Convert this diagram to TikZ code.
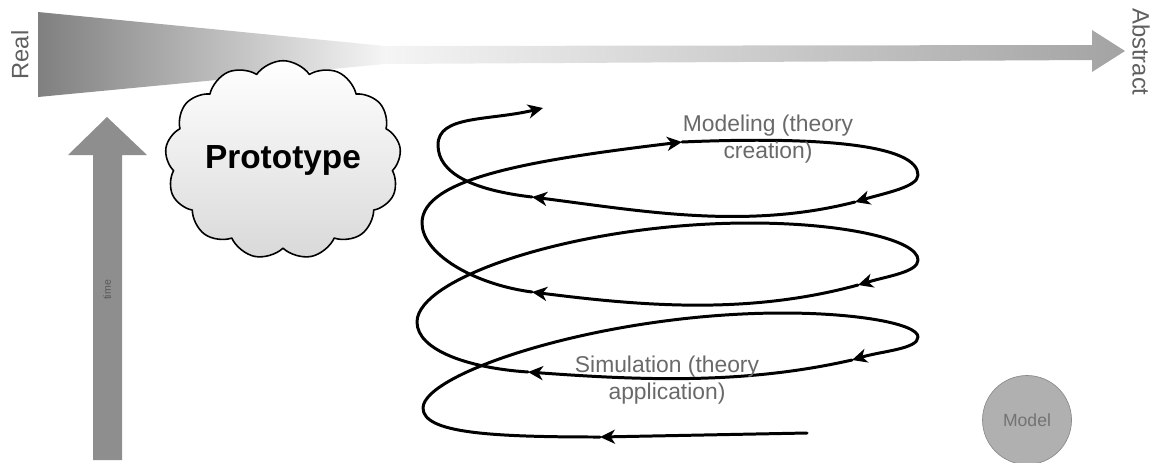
\documentclass[tikz,border=0pt]{standalone}
\usepackage{fontspec}
\setmainfont{Liberation Sans}
\usetikzlibrary{arrows.meta, shapes.symbols}
\definecolor{textc}{RGB}{95,95,95}
\definecolor{labelc}{RGB}{105,105,105}
\definecolor{timec}{RGB}{142,142,142}
\definecolor{modelc}{RGB}{176,176,176}

\begin{document}
\begin{tikzpicture}[x=0.2mm, y=-0.2mm, line join=round,
  coil/.style={line width=1.7pt, line cap=round, -{Stealth[length=8.5pt, width=8pt, inset=2.5pt]}},
  side/.style={font=\fontsize{13.5}{16}\selectfont, text=textc},
  note/.style={font=\fontsize{13}{15.5}\selectfont, text=labelc, align=center}]

% canvas in pixels of the 1155 x 462 sketch, y running down
\useasboundingbox (0,0) rectangle (1155,462);

%% ── real -> abstract band ───────────────────────────────────────
\shade[left color=black!50, right color=black!4]
  (38,12) -- (385,46) -- (385,64) -- (38,97) -- cycle;
\shade[left color=black!4, right color=black!36]
  (385,46) -- (1092,45) -- (1092,30) -- (1125,51) -- (1092,72) -- (1092,60) -- (385,64) -- cycle;
\node[side, rotate=90]  (real)     at (20,55)   {Real};
\node[side, rotate=-90] (abstract) at (1141,52) {Abstract};

%% ── time arrow ──────────────────────────────────────────────────
\fill[timec] (93,460) -- (93,155) -- (68,155) -- (107,117) -- (147,155)
  -- (122,155) -- (122,460) -- cycle;
\node[rotate=90, font=\fontsize{6}{7}\selectfont, text=black!65] (time) at (107,290) {time};

%% ── prototype cloud and model ───────────────────────────────────
\node[cloud, cloud puffs=13, cloud puff arc=110, aspect=1.25, inner sep=0pt,
  draw, line width=0.9pt, top color=white, bottom color=black!15,
  minimum width=4.18cm, minimum height=3.1cm,
  font=\fontsize{19}{22}\selectfont\bfseries] (proto) at (283,160) {Prototype};
\node[circle, draw=black!45, fill=modelc, minimum size=1.78cm,
  font=\fontsize{10}{12}\selectfont, text=black!55] (model) at (1027,420) {Model};

%% ── spiral (bottom to top) ──────────────────────────────────────
\draw[coil] (807,433) -- (600,437);
\draw[coil] (600,437) .. controls +(-110,0) and +(0,25) .. (423,408)
  .. controls +(0,-35) and +(-180,0) .. (783,313)
  .. controls +(75,0) and +(0,-13) .. (918,337)
  .. controls +(0,12) and +(30,-9) .. (852,360);
\draw[coil] (852,360) .. controls +(-110,25) and +(110,8) .. (528,372);
\draw[coil] (528,372) .. controls +(-60,-4) and +(0,28) .. (417,322)
  .. controls +(0,-45) and +(-170,0) .. (750,223)
  .. controls +(95,0) and +(0,-20) .. (918,260)
  .. controls +(0,12) and +(30,-9) .. (858,285);
\draw[coil] (858,285) .. controls +(-110,30) and +(110,14) .. (532,292);
\draw[coil] (532,292) .. controls +(-60,-8) and +(0,30) .. (422,223)
  .. controls +(0,-45) and +(-150,18) .. (682,142);
\draw[coil] (682,142) .. controls +(140,-6) and +(0,-30) .. (918,175)
  .. controls +(0,12) and +(30,-9) .. (855,202);
\draw[coil] (855,202) .. controls +(-110,28) and +(110,14) .. (532,197);
\draw[coil] (532,197) .. controls +(-60,-7) and +(0,28) .. (438,145)
  .. controls +(0,-30) and +(-55,13) .. (543,108);

%% ── loop captions ───────────────────────────────────────────────
\node[note] (modeling)   at (768,139) {Modeling (theory\\creation)};
\node[note] (simulation) at (667,380) {Simulation (theory\\application)};

\end{tikzpicture}
\end{document}
